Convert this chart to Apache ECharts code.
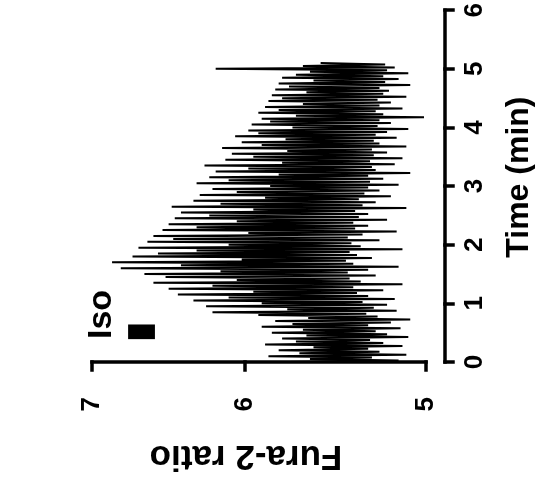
<!DOCTYPE html>
<html><head><meta charset="utf-8">
<script src="https://cdn.jsdelivr.net/npm/echarts@6/dist/echarts.min.js"></script>
<style>html,body{margin:0;padding:0;background:#fff}#c{width:543px;height:488px}</style>
</head><body><div id="c"></div>
<script>
// Recording: samples every 0.025 min, alternating peak / trough readings
const sampleStep = 0.025;
const peakRatio = [
 5.74,5.62,5.86,5.68,5.80,5.60,5.88,5.70,5.78,5.64,
 5.84,5.66,5.90,5.72,5.82,5.63,5.92,6.20,5.75,6.24,
 5.90,6.32,6.10,6.42,5.95,6.48,6.20,6.58,6.05,6.50,
 6.64,6.15,6.80,6.40,6.86,6.02,6.72,6.55,6.30,6.68,
 6.10,6.62,6.45,6.58,5.98,6.52,6.30,6.48,6.05,6.44,
 6.22,6.40,5.95,6.46,6.15,6.32,5.88,6.28,6.05,6.20,
 5.85,6.30,6.10,6.22,5.80,6.18,5.98,6.25,5.78,6.12,
 5.95,6.08,5.75,6.14,5.90,6.02,5.76,6.06,5.92,5.98,
 5.72,5.96,5.85,5.90,5.70,5.92,5.80,5.88,5.66,5.86,
 5.78,5.84,5.64,5.82,5.74,5.80,5.60,5.78,5.70,5.62,
 6.18,5.66,5.56
];
const troughRatio = [
 5.14,5.28,5.10,5.24,5.30,5.12,5.22,5.29,5.09,5.20,
 5.26,5.13,5.30,5.18,5.08,5.25,5.31,5.15,5.27,5.20,
 5.33,5.16,5.30,5.36,5.22,5.38,5.12,5.34,5.40,5.26,
 5.41,5.30,5.14,5.38,5.42,5.28,5.36,5.40,5.12,5.34,
 5.39,5.24,5.41,5.33,5.15,5.37,5.30,5.38,5.20,5.35,
 5.30,5.37,5.10,5.33,5.26,5.35,5.18,5.32,5.24,5.30,
 5.14,5.29,5.22,5.30,5.08,5.26,5.28,5.16,5.29,5.12,
 5.27,5.20,5.28,5.10,5.24,5.27,5.15,5.26,5.20,5.09,
 5.25,5.18,5.24,5.01,5.22,5.26,5.12,5.24,5.18,5.25,
 5.10,5.22,5.19,5.24,5.08,5.21,5.14,5.22,5.09,5.20,
 5.16,5.21
];
const ratioTicks = [5, 6, 7];
const isoTime = [0.39, 0.64];
const isoRatio = [6.57, 6.75];

const FONT = '"Liberation Sans", Arial, sans-serif';
const trace = [];
for (let k = 0; k < peakRatio.length; k++) {
  trace.push([peakRatio[k], +(2 * k * sampleStep).toFixed(3)]);
  if (k < troughRatio.length) trace.push([troughRatio[k], +((2 * k + 1) * sampleStep).toFixed(3)]);
}

const chart = echarts.init(document.getElementById('c'), null, {renderer: 'canvas'});
const axisStyle = {color: '#000', width: 3.5, cap: 'square'};
const labelStyle = {color: '#000', fontSize: 26, fontWeight: 'bold', fontFamily: FONT};
chart.setOption({
  animation: false,
  backgroundColor: '#fff',
  grid: {left: 92, right: 113, top: 6.5, bottom: 126},
  xAxis: {
    type: 'log', logBase: 10, min: 5, max: 7, inverse: true,
    position: 'bottom', offset: 18,
    axisLine: {lineStyle: axisStyle},
    axisTick: {customValues: ratioTicks, length: 8, lineStyle: axisStyle},
    axisLabel: Object.assign({customValues: ratioTicks, rotate: 90, margin: 17}, labelStyle),
    splitLine: {show: false}, minorTick: {show: false},
    name: 'Fura-2 ratio', nameLocation: 'middle', nameRotate: 180, nameGap: 58,
    nameTextStyle: {color: '#000', fontSize: 35, fontWeight: 'bold', fontFamily: FONT, padding: [0, 0, 0, 26]}
  },
  yAxis: {
    type: 'value', min: 0, max: 6, interval: 1,
    position: 'right', offset: 19,
    axisLine: {show: true, lineStyle: axisStyle},
    axisTick: {show: true, length: 8, lineStyle: axisStyle},
    axisLabel: Object.assign({rotate: 90, margin: 17}, labelStyle),
    splitLine: {show: false},
    name: 'Time (min)', nameLocation: 'middle', nameRotate: 90, nameGap: 58,
    nameTextStyle: {color: '#000', fontSize: 32, fontWeight: 'bold', fontFamily: FONT, padding: [0, 0, 0, 18]}
  },
  series: [
    {
      type: 'line', data: trace, showSymbol: false, symbol: 'none', clip: false,
      lineStyle: {color: '#000', width: 2}, sampling: null
    },
    {
      type: 'custom', clip: false,
      data: [[isoRatio[0], isoTime[0], isoRatio[1], isoTime[1]]],
      renderItem: function (params, api) {
        const a = api.coord([api.value(0), api.value(1)]);
        const b = api.coord([api.value(2), api.value(3)]);
        const x = Math.min(a[0], b[0]), y = Math.min(a[1], b[1]);
        const w = Math.abs(a[0] - b[0]), h = Math.abs(a[1] - b[1]);
        return {type: 'group', children: [
          {type: 'rect', shape: {x: x, y: y, width: w, height: h}, style: {fill: '#000'}},
          {type: 'text', x: x - 26, y: y - 10, rotation: Math.PI / 2,
           style: {text: 'Iso', fill: '#000', font: 'bold 34px ' + FONT, align: 'center', verticalAlign: 'middle'}}
        ]};
      }
    }
  ]
});
</script></body></html>
